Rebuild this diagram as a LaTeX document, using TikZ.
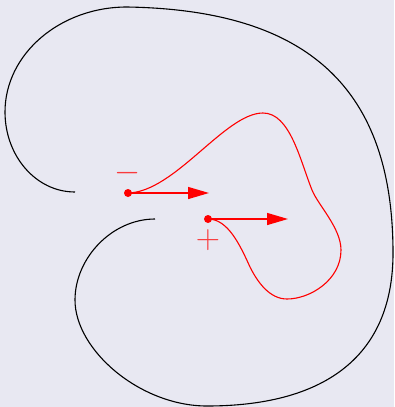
\documentclass[tikz,border=0pt]{standalone}
\usetikzlibrary{arrows.meta}
\definecolor{bgc}{RGB}{232,232,242}
\begin{document}
\begin{tikzpicture}[x=1pt,y=-1pt,
  curveline/.style={line width=1.1pt, black},
  redline/.style={line width=1.1pt, red},
  dot/.style={circle, fill=red, inner sep=0pt, minimum size=8pt},
  vec/.style={line width=1.4pt, red, -{Triangle[length=21pt,width=12pt]}},
  sign/.style={text=red, text opacity=0.75, font=\fontsize{24}{24}\selectfont, inner sep=0pt}]
\fill[bgc] (0,0) rectangle (394,407);
\useasboundingbox (0,0) rectangle (394,407);
% outer black curve
\coordinate (b0) at (75,192);
\coordinate (b6) at (155,219);
\draw[curveline] (b0) .. controls (36,192) and (5,156) .. (5,112)
  .. controls (5,54) and (60,7) .. (127,7)
  .. controls (310,10) and (393,90) .. (393,253)
  .. controls (393,360) and (320,406) .. (207,406)
  .. controls (140,406) and (75,350) .. (75,300)
  .. controls (75,258) and (112,219) .. (b6);
% charges
\node[dot] (m) at (128,193) {};
\node[dot] (p) at (208,219) {};
\node[sign] (ms) at (128,173) {\scalebox{1.35}{$-$}};
\node[sign] (ps) at (208,240) {\scalebox{1.35}{$+$}};
\coordinate (mt) at (209,193);
\coordinate (pt) at (288,219);
% red curve
\draw[redline] (m.center) .. controls (175,192) and (225,113) .. (263,113)
  .. controls (290,113) and (300,160) .. (312,190)
  .. controls (318,205) and (341,228) .. (341,250)
  .. controls (341,280) and (310,299) .. (287,299)
  .. controls (270,299) and (258,283) .. (250,267)
  .. controls (240,245) and (228,219) .. (p.center);
% arrows
\draw[vec] (m.center) -- (mt);
\draw[vec] (p.center) -- (pt);
\end{tikzpicture}
\end{document}
